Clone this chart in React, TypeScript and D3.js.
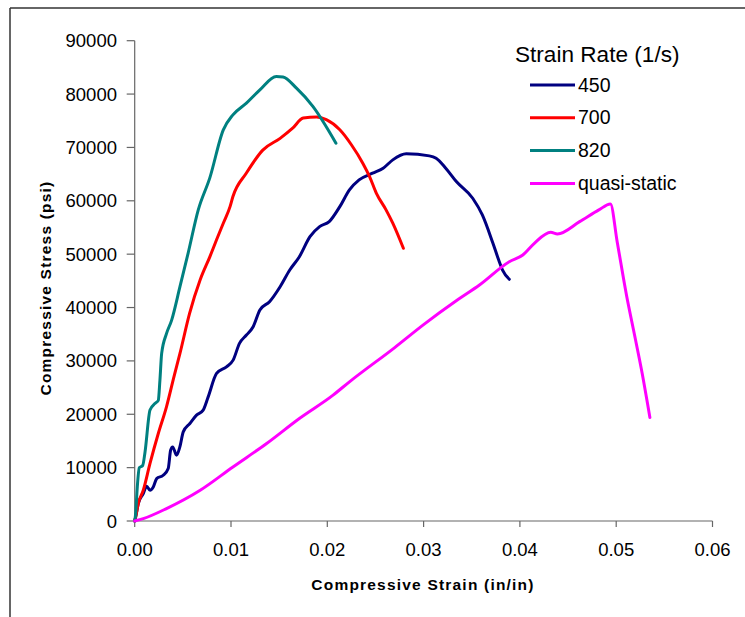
import React from "react";
import * as d3 from "d3";

const xTicks = [0, 0.01, 0.02, 0.03, 0.04, 0.05, 0.06];
const yTicks = [0, 10000, 20000, 30000, 40000, 50000, 60000, 70000, 80000, 90000];

const seriesNames = ["450", "700", "820", "quasi-static"];
const seriesColors = ["#000080", "#FF0000", "#008080", "#FF00FF"];

const rate450: [number, number][] = [
  [0, 0], [0.0001, 750], [0.00037, 3260], [0.00089, 5140], [0.00124, 6510], [0.00159, 5760],
  [0.00193, 6380], [0.00228, 7950], [0.00296, 8570], [0.00348, 9830], [0.00373, 13260],
  [0.00394, 13880], [0.00435, 12330], [0.00469, 13880], [0.00504, 16700], [0.00573, 18270],
  [0.00642, 19830], [0.00711, 20770], [0.00763, 23260], [0.0085, 27650], [0.00953, 28890],
  [0.01022, 30150], [0.01088, 33280], [0.0116, 34840], [0.0123, 36400], [0.013, 39530],
  [0.014, 41090], [0.0151, 43900], [0.0161, 47030], [0.0171, 49530], [0.0182, 53280],
  [0.0192, 55160], [0.0202, 56100], [0.0213, 58910], [0.0223, 62040], [0.0233, 63920],
  [0.0247, 65170], [0.0258, 66110], [0.0268, 67670], [0.0282, 68800], [0.0306, 68420],
  [0.0313, 67980], [0.0323, 66110], [0.0334, 63600], [0.0351, 60480], [0.0361, 57350],
  [0.0372, 52040], [0.0378, 48900], [0.0382, 47030], [0.0389, 45290],
];

const rate700: [number, number][] = [
  [0, 0], [0.0001, 750], [0.00037, 3260], [0.00089, 5760], [0.00159, 10800], [0.00245, 16400],
  [0.0033, 21400], [0.0041, 27200], [0.0047, 31400], [0.0057, 38900], [0.0068, 45200],
  [0.0078, 49500], [0.0085, 52700], [0.0092, 55800], [0.0099, 58900], [0.0102, 60800],
  [0.0116, 65200], [0.0133, 69500], [0.0151, 71700], [0.0164, 73600], [0.0175, 75500],
  [0.0189, 75700], [0.0199, 75200], [0.0213, 73300], [0.0225, 70500], [0.0237, 67000],
  [0.0244, 64500], [0.0251, 61400], [0.0261, 58300], [0.0268, 55800], [0.0279, 51100],
];

const rate820: [number, number][] = [
  [0, 0], [0.0001, 1400], [0.00027, 6400], [0.00048, 10000], [0.00083, 10400], [0.00107, 12900],
  [0.00159, 20800], [0.0021, 22000], [0.00245, 22600], [0.00262, 26400], [0.0028, 31400],
  [0.0033, 35100], [0.00383, 37600], [0.0047, 43900], [0.00555, 50200], [0.0066, 58300],
  [0.0078, 64300], [0.0092, 73300], [0.0102, 76100], [0.0116, 78300], [0.013, 80800],
  [0.0147, 83300], [0.0154, 83200], [0.0168, 81100], [0.0185, 77700], [0.0209, 70800],
];

const quasiStatic: [number, number][] = [
  [0, 0], [0.00089, 450], [0.0033, 2330], [0.0068, 5760], [0.0102, 10130], [0.0137, 14520],
  [0.0171, 19210], [0.0206, 23580], [0.0223, 26080], [0.027, 32500], [0.03, 36800],
  [0.0335, 41400], [0.0358, 44220], [0.0389, 48590], [0.0403, 49850], [0.0415, 52040],
  [0.0432, 54100], [0.0439, 53790], [0.0462, 56090], [0.0482, 58290], [0.0494, 59410],
  [0.0501, 52340], [0.0511, 42020], [0.0518, 35780], [0.0527, 27650], [0.0535, 19400],
];

const allSeries = [rate450, rate700, rate820, quasiStatic];

export default function App() {
  const W = 745;
  const H = 617;
  const x = d3.scaleLinear().domain([0, 0.06]).range([134.7, 712.5]);
  const y = d3.scaleLinear().domain([0, 90000]).range([521, 40.7]);
  const line = d3
    .line<[number, number]>()
    .x((d) => x(d[0]))
    .y((d) => y(d[1]))
    .curve(d3.curveMonotoneX);
  const font = "'Liberation Sans', Arial, sans-serif";
  const axisColor = "#666";

  return (
    <svg
      width={W}
      height={H}
      style={{ position: "absolute", left: 0, top: 0, background: "#fff" }}
      fontFamily={font}
    >
      <rect x={0} y={0} width={W} height={H} fill="#fff" />
      <line x1={10} y1={8} x2={W} y2={8} stroke="#333" strokeWidth={1.5} />
      <line x1={10} y1={8} x2={10} y2={H} stroke="#333" strokeWidth={1.5} />

      <line x1={x(0)} y1={y(0)} x2={x(0)} y2={y(90000)} stroke={axisColor} strokeWidth={1.2} />
      {yTicks.map((t) => (
        <g key={"y" + t}>
          <line x1={x(0) - 8} x2={x(0)} y1={y(t)} y2={y(t)} stroke={axisColor} strokeWidth={1.2} />
          <text x={117} y={y(t) + 6.5} textAnchor="end" fontSize={18.5} fill="#000">
            {t}
          </text>
        </g>
      ))}

      <line x1={x(0)} y1={y(0)} x2={x(0.06)} y2={y(0)} stroke={axisColor} strokeWidth={1.2} />
      {xTicks.map((t) => (
        <g key={"x" + t}>
          <line x1={x(t)} x2={x(t)} y1={y(0)} y2={y(0) + 6} stroke={axisColor} strokeWidth={1.2} />
          <text x={x(t)} y={556} textAnchor="middle" fontSize={18.5} fill="#000">
            {t.toFixed(2)}
          </text>
        </g>
      ))}

      <text
        x={423}
        y={590}
        textAnchor="middle"
        fontSize={15.5}
        fontWeight="bold"
        letterSpacing={1.2}
        fill="#000"
      >
        Compressive Strain (in/in)
      </text>
      <text
        transform={`translate(51,288) rotate(-90)`}
        textAnchor="middle"
        fontSize={15.5}
        fontWeight="bold"
        letterSpacing={1.2}
        fill="#000"
      >
        Compressive Stress (psi)
      </text>

      {allSeries.map((s, i) => (
        <path
          key={"s" + i}
          d={line(s) || ""}
          fill="none"
          stroke={seriesColors[i]}
          strokeWidth={3}
          strokeLinejoin="round"
          strokeLinecap="round"
        />
      ))}

      <text x={515} y={62} fontSize={22.6} fill="#000">
        Strain Rate (1/s)
      </text>
      {seriesNames.map((n, i) => (
        <g key={"l" + n}>
          <line
            x1={530}
            x2={575}
            y1={85 + i * 32.8}
            y2={85 + i * 32.8}
            stroke={seriesColors[i]}
            strokeWidth={3}
          />
          <text x={578} y={85 + i * 32.8 + 6.5} fontSize={19.5} fill="#000">
            {n}
          </text>
        </g>
      ))}
    </svg>
  );
}
